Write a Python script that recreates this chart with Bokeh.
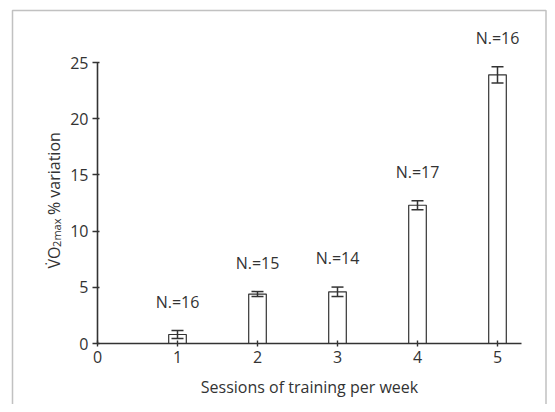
import numpy as np
from bokeh.plotting import figure
from bokeh.models import ColumnDataSource, Whisker, TeeHead, FixedTicker, Label, BoxAnnotation, Range1d, LinearAxis
from bokeh.core.properties import value
from bokeh.embed import file_html
from bokeh.resources import INLINE

# data
sessions = [1, 2, 3, 4, 5]
means = [0.8, 4.4, 4.6, 12.3, 23.9]
errors = [0.35, 0.22, 0.42, 0.4, 0.72]
n_labels = ["N.=16", "N.=15", "N.=14", "N.=17", "N.=16"]
x_ticks = [0, 1, 2, 3, 4, 5]
y_ticks = [0, 5, 10, 15, 20, 25]

INK = "#333333"
FONT = "Open Sans"

# layout (pixels)
W, H = 547, 404
X0, XS = 97.0, 80.0      # canvas x of x=0, px per unit
Y0, YS = 343.0, 11.24    # canvas y of y=0, px per unit


def dx(px):
    return (px - X0) / XS


def dy(py):
    return (Y0 - py) / YS


upper = [m + e for m, e in zip(means, errors)]
lower = [m - e for m, e in zip(means, errors)]
src = ColumnDataSource(dict(x=sessions, top=means, upper=upper, lower=lower, lab=n_labels))

p = figure(width=W, height=H, output_backend="svg", toolbar_location=None,
           x_range=Range1d(dx(0), dx(W)), y_range=Range1d(dy(H), dy(0)),
           x_axis_type=None, y_axis_type=None,
           min_border_left=0, min_border_right=0, min_border_top=0, min_border_bottom=0)
p.outline_line_color = None
p.grid.visible = False
p.background_fill_color = "white"
p.border_fill_color = "white"

p.vbar(x="x", top="top", width=0.22, source=src, fill_color="white",
       line_color=INK, line_width=1.2)

w = Whisker(base="x", upper="upper", lower="lower", source=src, line_color=INK, line_width=1.5,
            level="overlay",
            upper_head=TeeHead(size=12, line_color=INK, line_width=1.5),
            lower_head=TeeHead(size=12, line_color=INK, line_width=1.5))
p.add_layout(w)

p.text(x="x", y="upper", text="lab", source=src, text_align="center", text_baseline="middle",
       y_offset=-29, text_font=value(FONT), text_font_size="16px", text_color=INK)

xaxis = LinearAxis(fixed_location=0, bounds=(0, 5.3), ticker=FixedTicker(ticks=x_ticks))
yaxis = LinearAxis(fixed_location=0, bounds=(0, 25), ticker=FixedTicker(ticks=y_ticks))
for ax in (xaxis, yaxis):
    ax.axis_line_color = INK
    ax.axis_line_width = 1.6
    ax.major_tick_line_color = INK
    ax.major_tick_line_width = 1.4
    ax.minor_tick_line_color = None
    ax.major_label_text_font = FONT
    ax.major_label_text_font_size = "16px"
    ax.major_label_text_color = INK

xaxis.major_tick_in = 3
xaxis.major_tick_out = 3
yaxis.major_tick_in = 2
yaxis.major_tick_out = 5
yaxis.major_label_standoff = 4
xaxis.major_label_standoff = 4
xaxis.axis_label = "Sessions of training per week"
xaxis.axis_label_text_font = FONT
xaxis.axis_label_text_font_size = "16px"
xaxis.axis_label_text_font_style = "normal"
xaxis.axis_label_text_color = INK
xaxis.axis_label_standoff = 10
p.add_layout(xaxis, "below")
p.add_layout(yaxis, "left")

# y-axis title with subscript, built from pieces (rotated, reading upward)
base_px = 268
yl_main = 16
yl_sub = 11
pieces = [("V\u0307O", yl_main, 0, 1.35 * yl_main),
          ("2max", yl_sub, 3, 2.50 * yl_sub + 0.27 * yl_main),
          ("% variation", yl_main, 0, 0)]
pos = base_px
for txt, size, shift, wdt in pieces:
    p.add_layout(Label(x=dx(53 + shift), y=dy(pos), text=txt,
                       angle=np.pi / 2, text_align="left", text_baseline="alphabetic",
                       text_font=FONT, text_font_size=f"{size}px", text_color=INK))
    pos -= wdt

# outer frame
p.add_layout(BoxAnnotation(left=dx(12), right=dx(545.5), top=dy(10), bottom=dy(450),
                           fill_color=None, line_color=INK, line_width=1.5, level="underlay"))

open("out.html", "w").write(file_html(p, INLINE))
